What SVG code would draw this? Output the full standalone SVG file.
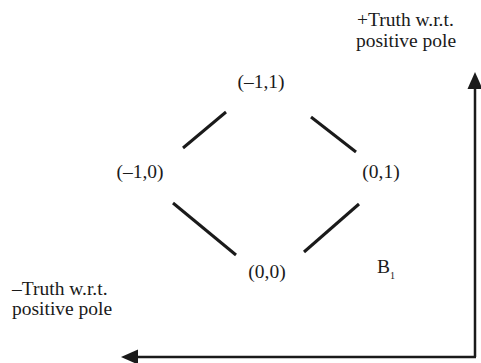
<svg xmlns="http://www.w3.org/2000/svg" width="481" height="363" viewBox="0 0 481 363">
<style>
text{font-family:"Liberation Serif","Times New Roman",serif;font-size:19.5px;fill:#1a1a1a}
.c{stroke:#1a1a1a;stroke-width:3;fill:none}
.ax{stroke:#1a1a1a;stroke-width:2.5;fill:none}
.ah{fill:#1a1a1a}
</style>
<rect width="481" height="363" fill="#fff"/>
<g id="axes">
<line class="ax" x1="475" y1="357" x2="475" y2="86"/>
<polygon class="ah" points="475,72 467.5,89 482.5,89"/>
<line class="ax" x1="476" y1="357" x2="136" y2="357"/>
<polygon class="ah" points="121,357 138,349.5 138,364.5"/>
</g>
<g id="labels">
<text x="357" y="26">+Truth w.r.t.</text>
<text x="356" y="47">positive pole</text>
<text x="12" y="295">–Truth w.r.t.</text>
<text x="12" y="315">positive pole</text>
<text x="377" y="273">B<tspan font-size="10" dy="6">1</tspan></text>
</g>
<g id="n-11"><text x="261" y="88" text-anchor="middle">(–1,1)</text></g>
<g id="n-10"><text x="140" y="178" text-anchor="middle">(–1,0)</text></g>
<g id="n01"><text x="381" y="178" text-anchor="middle">(0,1)</text></g>
<g id="n00"><text x="267" y="278" text-anchor="middle">(0,0)</text></g>
<g id="connectors">
<line class="c" x1="183" y1="148" x2="226" y2="112"/>
<line class="c" x1="311" y1="117" x2="356" y2="152"/>
<line class="c" x1="173" y1="203" x2="236" y2="255"/>
<line class="c" x1="304" y1="252" x2="359" y2="204"/>
</g>
</svg>
